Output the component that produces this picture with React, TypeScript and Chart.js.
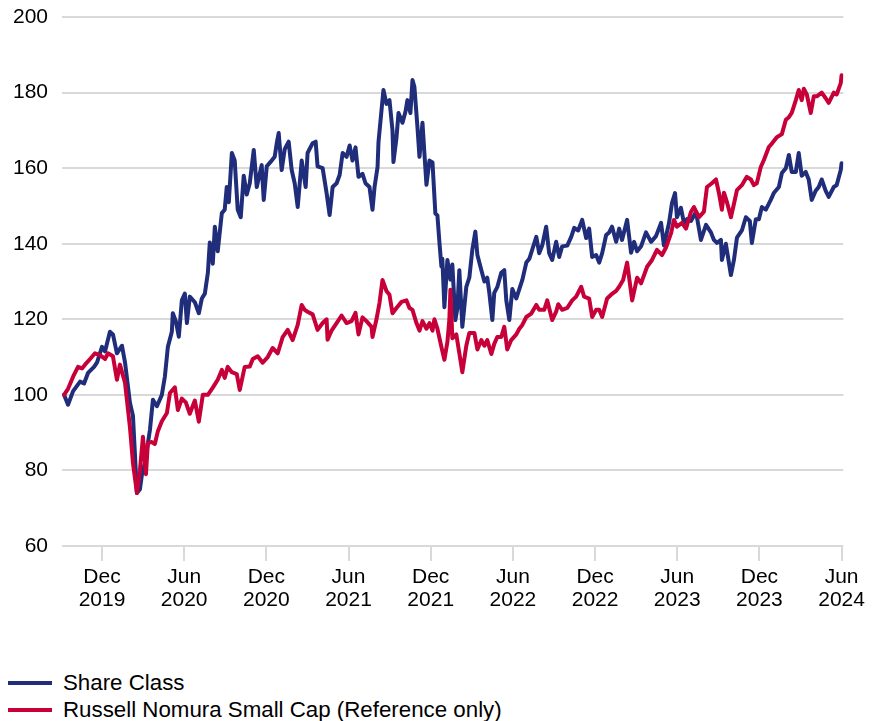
import React, { useEffect, useRef } from "react";
import { Chart, registerables } from "chart.js";

Chart.register(...registerables);

// x values: months relative to the "Dec 2019" tick
const shareMonths = [
  -2.77, -2.48, -2.11, -1.6, -1.31, -1.02, -0.58, -0.36, 0, 0.22, 0.58, 0.8, 1.09, 1.46, 1.68, 2.04, 2.26, 2.55, 2.77, 2.92,
  3.13, 3.5, 3.72, 4.01, 4.37, 4.59, 4.81, 5.1, 5.17, 5.39, 5.61, 5.83, 6.05, 6.2, 6.41, 6.78, 7.07, 7.29, 7.51, 7.73,
  7.87, 8.09, 8.24, 8.45, 8.75, 8.96, 9.11, 9.26, 9.48, 9.69, 9.91, 10.13, 10.35, 10.57, 10.79, 11.08, 11.3, 11.66, 11.81, 12.03,
  12.39, 12.61, 12.76, 12.9, 13.12, 13.34, 13.63, 13.85, 14.07, 14.29, 14.58, 14.87, 15.01, 15.38, 15.6, 15.74, 16.11, 16.4, 16.62, 16.84,
  17.13, 17.35, 17.57, 17.86, 18.08, 18.29, 18.51, 18.73, 19.02, 19.24, 19.53, 19.75, 19.9, 20.12, 20.19, 20.41, 20.55, 20.77, 20.99, 21.21,
  21.28, 21.5, 21.65, 21.94, 22.16, 22.3, 22.52, 22.67, 22.81, 23.03, 23.18, 23.4, 23.54, 23.69, 23.91, 24.13, 24.34, 24.49, 24.64, 24.78,
  24.85, 25.0, 25.22, 25.44, 25.58, 25.8, 25.95, 26.09, 26.31, 26.6, 26.82, 27.04, 27.26, 27.41, 27.7, 27.92, 28.13, 28.28, 28.5, 28.64,
  28.86, 29.15, 29.37, 29.52, 29.74, 29.96, 30.25, 30.47, 30.69, 30.98, 31.2, 31.41, 31.71, 31.92, 32.14, 32.43, 32.65, 32.87, 33.16, 33.38,
  33.6, 33.97, 34.26, 34.48, 34.77, 35.06, 35.35, 35.57, 35.79, 36.08, 36.3, 36.52, 36.81, 37.03, 37.24, 37.54, 37.76, 37.97, 38.34, 38.63,
  38.85, 39.07, 39.36, 39.72, 40.09, 40.45, 40.82, 41.03, 41.4, 41.62, 41.84, 41.98, 42.27, 42.49, 42.71, 43.0, 43.37, 43.73, 44.1, 44.46,
  44.68, 44.9, 45.19, 45.26, 45.55, 45.92, 46.14, 46.36, 46.72, 47.01, 47.3, 47.45, 47.74, 47.96, 48.18, 48.47, 48.83, 49.05, 49.42, 49.64,
  49.93, 50.15, 50.36, 50.66, 50.87, 51.09, 51.38, 51.6, 51.82, 52.11, 52.33, 52.55, 52.84, 53.06, 53.43, 53.64, 53.94, 54.0,
];
const shareValues = [
  100, 97.4, 101, 103.5, 103, 105.8, 107.4, 108.6, 112.7, 111.5, 116.7, 116, 111, 113, 108.6, 97.9, 94.5, 74, 75, 79,
  82, 90.7, 98.7, 97, 100, 104.8, 112.7, 116.7, 121.6, 119.5, 115.4, 125, 126.8, 119, 126, 124.5, 121.6, 125.5, 126.8, 132.3,
  140.3, 134.7, 144.5, 138, 148.1, 149, 155, 151, 164, 162, 149, 147, 158, 153, 156, 164.8, 155, 160.8, 151.6, 160.5,
  162, 163, 166.6, 169.3, 159.5, 165, 167, 159.5, 156, 149.7, 162, 155, 164, 166.6, 167, 160.5, 160, 153.4, 147.6, 155,
  156, 158.2, 164, 163, 166, 162, 165.5, 157.7, 158.5, 156, 155, 149, 155, 160.3, 167, 175.4, 180.7, 177, 178, 170,
  161.6, 168, 174.6, 172, 175, 178, 174.6, 183.3, 181.5, 171, 163, 172, 164, 155.6, 162, 161.5, 148, 147.5, 140.2, 134,
  136, 123.2, 135.7, 130.5, 134.5, 119.8, 123, 133, 118, 128.6, 131, 138.4, 143.2, 137, 133, 130, 131, 127, 119.8, 127,
  128.5, 132.3, 133, 125, 119.8, 128, 125.5, 128, 130.4, 135, 136, 138.4, 141.8, 137.5, 139.5, 144.5, 137.5, 135.7, 140.5, 136.5,
  139.3, 139.5, 141.8, 144.2, 143.5, 146.3, 141.5, 144, 136.5, 137, 135, 137.5, 142.3, 143, 144.5, 140.5, 144, 141, 146.3, 137.6,
  140.5, 138, 139.3, 143, 140.5, 142, 145.5, 139.5, 145.5, 150.8, 153.4, 147, 149.5, 145.5, 146.5, 146, 148.4, 141, 145, 143,
  141, 140.2, 141, 135.7, 140, 131.7, 135.7, 141.6, 143.5, 147, 146, 140.2, 146.5, 146.5, 149.7, 149, 151.6, 153.4, 155, 158.7,
  160, 163.5, 159, 159, 164, 158, 159, 157, 151.6, 154, 155, 157, 154, 152.4, 155, 155.5, 159.5, 161.3,
];

const benchMonths = [
  -2.77, -2.48, -2.11, -1.75, -1.46, -1.24, -0.87, -0.51, -0.15, 0.22, 0.44, 0.8, 1.09, 1.31, 1.68, 2.04, 2.26, 2.55, 2.77, 2.99,
  3.21, 3.35, 3.64, 3.86, 4.08, 4.37, 4.74, 4.96, 5.32, 5.54, 5.83, 6.12, 6.41, 6.78, 7.07, 7.36, 7.73, 8.09, 8.45, 8.75,
  8.96, 9.18, 9.48, 9.84, 10.06, 10.42, 10.79, 11.01, 11.37, 11.73, 12.1, 12.46, 12.83, 13.19, 13.56, 13.92, 14.29, 14.58, 14.8, 15.01,
  15.38, 15.74, 16.11, 16.4, 16.47, 16.76, 17.13, 17.49, 17.86, 18.22, 18.51, 18.73, 19.02, 19.31, 19.68, 19.75, 20.04, 20.26, 20.48, 20.77,
  20.99, 21.21, 21.5, 21.87, 22.23, 22.45, 22.67, 22.96, 23.18, 23.4, 23.69, 23.91, 24.13, 24.27, 24.49, 24.78, 25.0, 25.22, 25.36, 25.44,
  25.58, 25.87, 26.09, 26.31, 26.6, 26.82, 27.19, 27.41, 27.7, 27.92, 28.13, 28.43, 28.64, 28.86, 29.15, 29.37, 29.59, 29.88, 30.25, 30.47,
  30.69, 30.98, 31.34, 31.71, 31.92, 32.29, 32.51, 32.87, 33.16, 33.31, 33.6, 33.97, 34.33, 34.62, 34.99, 35.2, 35.57, 35.79, 36.08, 36.3,
  36.52, 36.88, 37.17, 37.54, 37.76, 38.05, 38.34, 38.71, 39.07, 39.36, 39.8, 40.16, 40.52, 40.89, 41.18, 41.55, 41.76, 41.98, 42.35, 42.64,
  43.0, 43.22, 43.59, 43.95, 44.17, 44.53, 44.83, 45.04, 45.26, 45.41, 45.63, 45.92, 46.14, 46.36, 46.72, 47.08, 47.38, 47.59, 47.81, 48.1,
  48.32, 48.69, 48.91, 49.27, 49.64, 49.93, 50.15, 50.36, 50.66, 50.87, 51.09, 51.24, 51.46, 51.75, 51.97, 52.19, 52.55, 52.84, 53.06, 53.43,
  53.64, 53.94, 54.0,
];
const benchValues = [
  100, 101.6, 104.8, 107.4, 107, 108, 109.5, 111, 110.5, 109.5, 111, 110.2, 104, 108, 103.2, 91.5, 82, 74, 80, 88.9,
  79, 87.3, 87.5, 87, 90.4, 93, 95.2, 100.5, 102, 96, 99, 98, 95, 98.5, 92.9, 100, 100, 101.9, 104, 106.6,
  104.5, 107.4, 106, 105.5, 101.3, 107.4, 107.5, 109.5, 110.2, 108.5, 110, 112.4, 111, 115.3, 117.2, 114.5, 118.5, 123.8, 122.5, 122,
  121.3, 117.2, 119, 120, 114.6, 117, 119, 121, 119, 119.5, 121.7, 116, 120.5, 119.5, 118, 115.3, 120, 124.3, 130.4, 127.5,
  126.5, 121.6, 123, 124.6, 125, 123, 122.5, 119, 117, 119.5, 117.5, 119, 117, 120, 117.5, 112.7, 109.3, 114, 119.8, 127.8,
  115, 116, 111, 106, 113, 116.4, 116.4, 112, 114.5, 113, 114.5, 110.8, 113.5, 115.3, 115.3, 118, 112, 114.5, 116, 117.5,
  118.5, 120.6, 121.5, 123.8, 122.5, 122.5, 125, 119.8, 122, 124, 122.5, 123, 125, 126, 128.6, 126, 125.5, 120.6, 122.5, 122.5,
  120.6, 125.5, 126.5, 127.5, 128.6, 130.4, 135, 125, 131, 129.5, 133.9, 135.7, 138.4, 137, 139, 142.8, 146.3, 144.5, 145.5, 144,
  148.4, 149.7, 147, 148.5, 155, 156, 157, 153.5, 149, 153.5, 151, 147, 150.5, 154.2, 155.5, 157.7, 157, 155.5, 156, 160.3,
  162.1, 165.6, 166.5, 168.2, 169, 172.8, 173.5, 174.6, 178, 180.7, 178, 181, 179.5, 174.6, 179, 179, 180, 178.5, 177.3, 180,
  179.5, 182.5, 184.6,
];

const tickMonths = [0, 6, 12, 18, 24, 30, 36, 42, 48, 54];
const tickLabels = [
  ["Dec", "2019"], ["Jun", "2020"], ["Dec", "2020"], ["Jun", "2021"], ["Dec", "2021"],
  ["Jun", "2022"], ["Dec", "2022"], ["Jun", "2023"], ["Dec", "2023"], ["Jun", "2024"],
];
const seriesNames = ["Share Class", "Russell Nomura Small Cap (Reference only)"];
const seriesColors = ["#1f2d7a", "#c8003a"];

const FONT = "'Liberation Sans', Arial, Helvetica, sans-serif";

export default function App() {
  const canvasRef = useRef<HTMLCanvasElement | null>(null);

  useEffect(() => {
    document.documentElement.style.overflow = "hidden";
    const canvas = canvasRef.current;
    if (!canvas) return;
    const toPoints = (xs: number[], ys: number[]) => xs.map((x, i) => ({ x, y: ys[i] }));
    const lineStyle = {
      borderWidth: 4,
      pointRadius: 0,
      tension: 0,
      borderJoinStyle: "round" as const,
      borderCapStyle: "round" as const,
    };
    const chart = new Chart(canvas, {
      type: "line",
      data: {
        datasets: [
          {
            label: seriesNames[0],
            data: toPoints(shareMonths, shareValues),
            borderColor: seriesColors[0],
            backgroundColor: seriesColors[0],
            order: 2,
            ...lineStyle,
          },
          {
            label: seriesNames[1],
            data: toPoints(benchMonths, benchValues),
            borderColor: seriesColors[1],
            backgroundColor: seriesColors[1],
            order: 1,
            ...lineStyle,
          },
        ],
      },
      options: {
        responsive: false,
        animation: false,
        layout: { padding: { top: 9, right: 24, left: 0, bottom: 0 } },
        plugins: { legend: { display: false }, tooltip: { enabled: false } },
        scales: {
          x: {
            type: "linear",
            min: -2.92,
            max: 54.13,
            afterBuildTicks: (scale: any) => {
              scale.ticks = tickMonths.map((v) => ({ value: v }));
            },
            afterFit: (scale: any) => {
              scale.height = 82;
            },
            ticks: {
              autoSkip: false,
              maxRotation: 0,
              minRotation: 0,
              color: "#000",
              padding: 4,
              font: { family: FONT, size: 21, lineHeight: 1.12 },
              callback: (_v: any, i: number) => tickLabels[i],
            },
            grid: {
              drawOnChartArea: false,
              drawTicks: true,
              tickLength: 15,
              color: "#d9d9d9",
              lineWidth: 2,
            },
            border: { display: false },
          },
          y: {
            min: 60,
            max: 200,
            afterFit: (scale: any) => {
              scale.width = 54;
              scale.paddingTop = 0;
              scale.paddingBottom = 0;
            },
            ticks: {
              stepSize: 20,
              color: "#000",
              padding: 14,
              font: { family: FONT, size: 21 },
            },
            grid: { drawTicks: false, color: "#d9d9d9", lineWidth: 2 },
            border: { display: false },
          },
        },
      },
    });
    return () => chart.destroy();
  }, []);

  return (
    <div style={{ width: 861, fontFamily: FONT }}>
      <canvas ref={canvasRef} width={861} height={620} style={{ display: "block" }} />
      <div style={{ marginTop: 41, fontSize: 22.3, color: "#000" }}>
        {seriesNames.map((name, i) => (
          <div key={name} style={{ display: "flex", alignItems: "center", height: 27, whiteSpace: "nowrap" }}>
            <span style={{ display: "inline-block", width: 44, height: 4, background: seriesColors[i], marginRight: 11 }} />
            <span>{name}</span>
          </div>
        ))}
      </div>
    </div>
  );
}
